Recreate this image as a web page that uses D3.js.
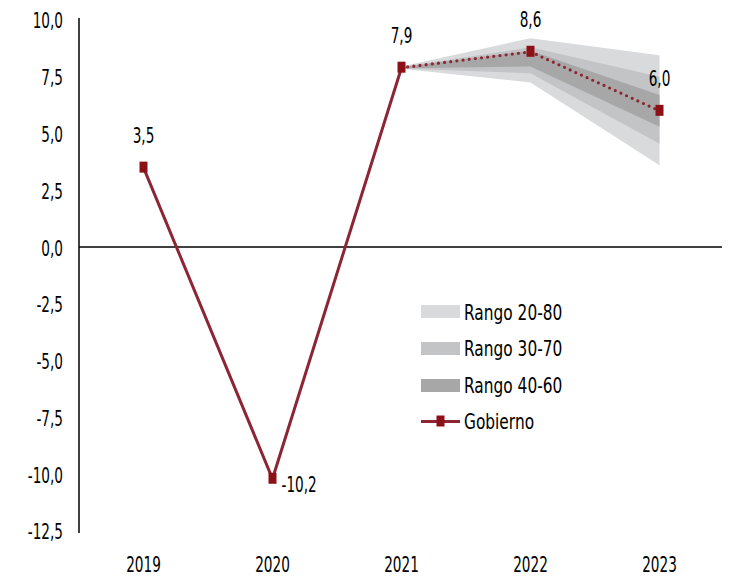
<!DOCTYPE html>
<html>
<head>
<meta charset="utf-8">
<script src="https://cdn.jsdelivr.net/npm/d3@7"></script>
<style>
  html, body { margin: 0; padding: 0; background: #fff; }
  svg { display: block; }
  text { font-family: "DejaVu Sans", sans-serif; font-size: 22px; fill: #000; }
</style>
</head>
<body>
<svg id="chart" width="733" height="579"></svg>
<script>
// ---- data ----
const years = ['2019', '2020', '2021', '2022', '2023'];
const gobierno = [3.5, -10.2, 7.9, 8.6, 6.0];
const valueLabels = ['3,5', '-10,2', '7,9', '8,6', '6,0'];
const fanYears = ['2021', '2022', '2023'];
const r2080Low  = [7.85, 7.25, 3.6];
const r2080High = [7.95, 9.2, 8.45];
const r3070Low  = [7.87, 7.65, 4.55];
const r3070High = [7.93, 8.8, 7.5];
const r4060Low  = [7.88, 7.95, 5.3];
const r4060High = [7.92, 8.65, 6.7];
const yTicks = [10, 7.5, 5, 2.5, 0, -2.5, -5, -7.5, -10, -12.5];
const legendLabels = ['Rango 20-80', 'Rango 30-70', 'Rango 40-60', 'Gobierno'];

// ---- layout ----
const NUM_SX = 0.62, TXT_SX = 0.7, FS = '22px';
const svg = d3.select('#chart');
const x = d3.scaleBand().domain(years).range([79, 724]).padding(0);
const cx = d => x(d) + x.bandwidth() / 2;
const y = d3.scaleLinear().domain([-12.5, 10]).range([531, 20]);

const fmt = v => v.toFixed(1).replace('.', ',');

const cLight = '#d9dadc', cMid = '#c3c4c6', cDark = '#a7a7a8';
const lineCol = '#8c2634', markCol = '#8b1116';

// fan areas
const bands = [
  { lo: r2080Low, hi: r2080High, col: cLight },
  { lo: r3070Low, hi: r3070High, col: cMid },
  { lo: r4060Low, hi: r4060High, col: cDark }
];
bands.forEach(b => {
  const pts = fanYears.map((yr, i) => ({ yr, lo: b.lo[i], hi: b.hi[i] }));
  svg.append('path')
    .attr('d', d3.area().x(d => cx(d.yr)).y0(d => y(d.lo)).y1(d => y(d.hi))(pts))
    .attr('fill', b.col);
});

// y axis labels
const yAxis = d3.axisLeft(y).tickValues(yTicks).tickFormat(fmt).tickSize(0).tickPadding(16 / NUM_SX);
const gy = svg.append('g').attr('transform', 'translate(79,0)').call(yAxis);
gy.select('.domain').remove();
gy.selectAll('text').attr('dy', '0.36em').attr('transform', `scale(${NUM_SX},1)`)
  .style('font-size', FS).style('font-family', '"DejaVu Sans", sans-serif');

// y axis line
svg.append('line').attr('x1', 79).attr('x2', 79).attr('y1', 18).attr('y2', 533)
  .attr('stroke', '#000').attr('stroke-width', 1.5);

// zero line
svg.append('line').attr('x1', 79).attr('x2', 722).attr('y1', y(0)).attr('y2', y(0))
  .attr('stroke', '#000').attr('stroke-width', 1.5);

// x axis labels
const xAxis = d3.axisBottom(x).tickSize(0).tickPadding(0);
const gx = svg.append('g').attr('transform', 'translate(0,564)').call(xAxis);
gx.select('.domain').remove();
gx.selectAll('text').attr('dy', '0.36em').attr('transform', `scale(${NUM_SX},1)`)
  .style('font-size', FS).style('font-family', '"DejaVu Sans", sans-serif');

// series
const pts = years.map((yr, i) => ({ yr, v: gobierno[i] }));
const line = d3.line().x(d => cx(d.yr)).y(d => y(d.v));
svg.append('path').attr('d', line(pts.slice(0, 3)))
  .attr('fill', 'none').attr('stroke', lineCol).attr('stroke-width', 3);
svg.append('path').attr('d', line(pts.slice(2)))
  .attr('fill', 'none').attr('stroke', lineCol).attr('stroke-width', 3.2)
  .attr('stroke-linecap', 'round').attr('stroke-dasharray', '0,6.2');

svg.selectAll('rect.mk').data(pts).enter().append('rect')
  .attr('class', 'mk')
  .attr('x', d => cx(d.yr) - 4).attr('y', d => y(d.v) - 6)
  .attr('width', 8).attr('height', 11).attr('fill', markCol);

// value labels
svg.selectAll('text.vl').data(pts).enter().append('text')
  .attr('class', 'vl')
  .attr('transform', d => {
    const tx = d.v < 0 ? cx(d.yr) + 9 : cx(d.yr);
    const ty = d.v < 0 ? y(d.v) + 5 : y(d.v) - 33;
    return `translate(${tx},${ty}) scale(${NUM_SX},1)`;
  })
  .attr('dy', '0.36em')
  .attr('text-anchor', d => d.v < 0 ? 'start' : 'middle')
  .text((d, i) => valueLabels[i]);

// legend
const lg = svg.append('g').attr('transform', 'translate(421,312)');
[cLight, cMid, cDark].forEach((c, i) => {
  lg.append('rect').attr('x', 0).attr('y', i * 37 - 7).attr('width', 39).attr('height', 13).attr('fill', c);
});
lg.append('line').attr('x1', 0).attr('x2', 39).attr('y1', 3 * 36.5).attr('y2', 3 * 36.5)
  .attr('stroke', lineCol).attr('stroke-width', 3);
lg.append('rect').attr('x', 15.5).attr('y', 3 * 36.5 - 6).attr('width', 8).attr('height', 11).attr('fill', markCol);
legendLabels.forEach((t, i) => {
  lg.append('text').attr('transform', `translate(43,${i * 36.5}) scale(${TXT_SX},1)`)
    .attr('dy', '0.36em').text(t);
});
</script>
</body>
</html>
